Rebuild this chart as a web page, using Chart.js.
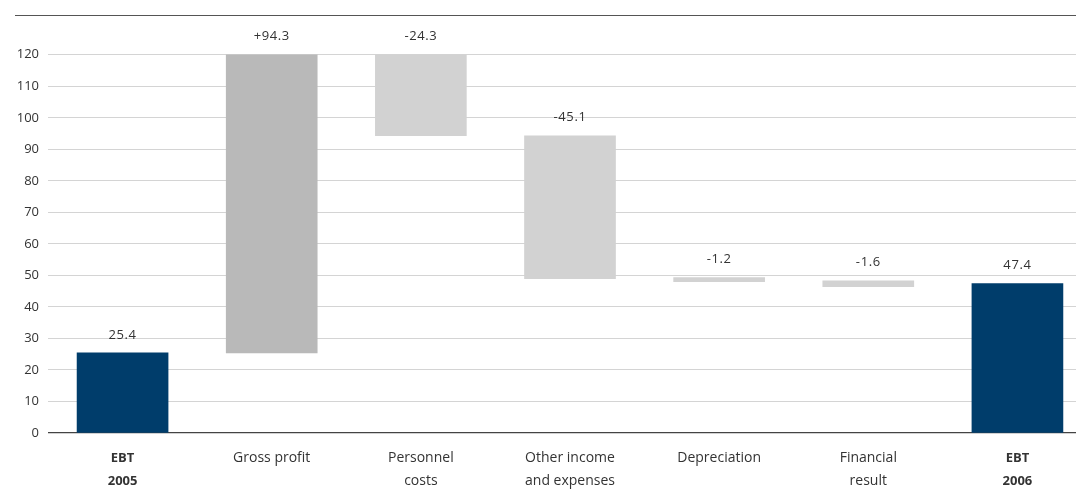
<!DOCTYPE html>
<html>
<head>
<meta charset="utf-8">
<script src="https://cdn.jsdelivr.net/npm/chart.js@4"></script>
<style>
  html, body { margin: 0; padding: 0; background: #fff; overflow: hidden; }
  #wrap { position: relative; width: 1076px; height: 492px; overflow: hidden; }
  #rule { position: absolute; left: 15px; top: 15px; width: 1061px; height: 1px; background: #555; }
  #ebt-chart { position: absolute; left: 0; top: 0; }
</style>
</head>
<body>
<div id="wrap">
  <canvas id="ebt-chart" width="1100" height="492"></canvas>
  <div id="rule"></div>
</div>
<script>
const ebt_chart = document.getElementById("ebt-chart");

const categories = [
    ["EBT", "2005"],
    "Gross profit",
    ["Personnel", "costs"],
    ["Other income", "and expenses"],
    "Depreciation",
    ["Financial", "result"],
    ["EBT", "2006"],
    ];
// bar start / end values
const bar_start = [0, 25.4, 94.3, 49.0, 48.0, 46.4, 0];
const bar_end = [25.4, 120, 120, 94.3, 49.3, 48.3, 47.4];
const bar_labels = ["25.4", "+94.3", "-24.3", "-45.1", "-1.2", "-1.6", "47.4"];
const bar_colors = ["#003d6b", "#b9b9b9", "#d2d2d2", "#d2d2d2", "#d2d2d2", "#d2d2d2", "#003d6b"];
const y_ticks = [0, 10, 20, 30, 40, 50, 60, 70, 80, 90, 100, 110, 120];

const barLabelPlugin = {
  id: 'barLabels',
  afterDatasetsDraw(chart) {
    const ctx = chart.ctx;
    const meta = chart.getDatasetMeta(0);
    ctx.save();
    ctx.font = '13px "Open Sans"';
    ctx.fillStyle = '#333';
    ctx.textAlign = 'center';
    ctx.textBaseline = 'middle';
    if ('letterSpacing' in ctx) ctx.letterSpacing = '0.6px';
    meta.data.forEach((bar, i) => {
      const top = Math.min(bar.y, bar.base);
      ctx.fillText(bar_labels[i], bar.x, top - 18);
    });
    ctx.restore();
  }
};

(async function createEbtChart() {
  new Chart(ebt_chart, {
    type: 'bar',
    data: {
      labels: categories,
      datasets: [
        {
          label: 'EBT',
          data: bar_start.map((s, i) => [s, bar_end[i]]),
          backgroundColor: bar_colors,
          barThickness: 91,
          borderSkipped: false,
        }
      ]
    },
    plugins: [barLabelPlugin],
    options: {
      responsive: false,
      animation: false,
      layout: {
        padding: { top: 39, right: 8, left: 0, bottom: 0 }
      },
      scales: {
        x: {
          grid: { display: false, drawTicks: false },
          border: { display: false },
          afterFit(scale) { scale.height = 59; },
          ticks: {
            padding: 14,
            color: '#333',
            maxRotation: 0,
            autoSkip: false,
            font: (c) => {
              const i = c.index;
              if (i === 0 || i === 6) {
                return { family: '"Open Sans"', size: 13, weight: 'bold', lineHeight: '23px' };
              }
              return { family: '"Open Sans"', size: 14, lineHeight: '23px' };
            }
          }
        },
        y: {
          min: 0,
          max: 125,
          afterFit(scale) { scale.width = 48; },
          afterBuildTicks(scale) {
            scale.ticks = y_ticks.map(v => ({ value: v }));
          },
          border: { display: false },
          grid: {
            drawTicks: false,
            color: (c) => (c.tick && c.tick.value === 0) ? '#444' : '#d4d4d4',
            lineWidth: (c) => (c.tick && c.tick.value === 0) ? 1.2 : 1,
          },
          ticks: {
            padding: 9,
            color: '#333',
            font: { family: '"Open Sans"', size: 13 }
          }
        }
      },
      plugins: {
        legend: { display: false },
        title: { display: false },
        tooltip: { enabled: false }
      }
    }
  });
})();
</script>
</body>
</html>
